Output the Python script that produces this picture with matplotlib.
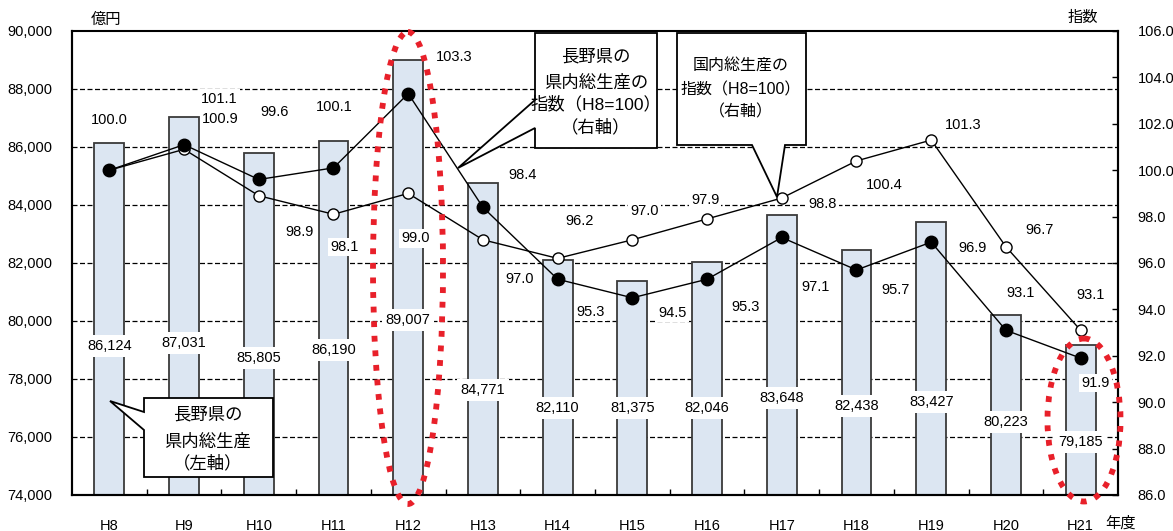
import matplotlib
matplotlib.use("Agg")
import matplotlib.pyplot as plt
from matplotlib.patches import Polygon, Ellipse
from matplotlib.ticker import FuncFormatter, FixedLocator
import numpy as np

plt.rcParams['font.family'] = ['Liberation Sans', 'Noto Sans CJK JP', 'DejaVu Sans']

# ---- data ----
years = ["H8", "H9", "H10", "H11", "H12", "H13", "H14", "H15", "H16", "H17", "H18", "H19", "H20", "H21"]
nagano_gdp = [86124, 87031, 85805, 86190, 89007, 84771, 82110, 81375, 82046, 83648, 82438, 83427, 80223, 79185]
nagano_index = [100.0, 101.1, 99.6, 100.1, 103.3, 98.4, 95.3, 94.5, 95.3, 97.1, 95.7, 96.9, 93.1, 91.9]
national_index = [100.0, 100.9, 98.9, 98.1, 99.0, 97.0, 96.2, 97.0, 97.9, 98.8, 100.4, 101.3, 96.7, 93.1]

# ---- layout (label placement) ----
bar_label_y = [79138, 79241, 78724, 79000, 80034, 77621, 77000, 77000, 77000, 77345, 77069, 77207, 76517, 75828]
nag_off = [(0, 50), (35, 46), (16, 67), (1, 61), (46, 37), (40, 32), (33, -33), (40, -15),
           (38, -28), (34, -50), (39, -20), (41, -6), (15, 37), (15, -25)]
nat_off = [None, (36, 30), (41, -36), (11, -33), (7, -45), (37, -39), (22, 37), (12, 29),
           (-2, 19), (41, -6), (28, -24), (32, 15), (34, 17), (10, 35)]

W, H = 1173, 531
fig = plt.figure(figsize=(W / 100, H / 100), dpi=100)
ax = fig.add_axes([72 / W, 36 / H, 1046 / W, 464 / H])
ax2 = ax.twinx()

x = np.arange(len(years))
ax.bar(x, nagano_gdp, width=0.4, color="#dce6f2", edgecolor="#3a3a3a", linewidth=1.3, zorder=2)
ax.set_xlim(-0.5, len(years) - 0.5)
ax.set_ylim(74000, 90000)
ax.set_yticks(np.arange(74000, 90001, 2000))
ax.yaxis.set_major_formatter(FuncFormatter(lambda v, p: f"{int(v):,}"))
for gy in range(76000, 90000, 2000):
    ax.axhline(gy, color="black", linestyle=(0, (4, 2)), linewidth=0.9, zorder=0)

ax.set_xticks(x)
ax.set_xticklabels(years)
ax.xaxis.set_minor_locator(FixedLocator(np.arange(0.5, len(years) - 1, 1)))
ax.tick_params(axis="x", which="major", length=0, pad=17, labelsize=10.5)
ax.tick_params(axis="x", which="minor", direction="in", length=4, width=1)
ax.tick_params(axis="y", length=0, pad=14, labelsize=10.5)

for sp in ["left", "bottom", "right"]:
    ax.spines[sp].set_linewidth(1.5)
    ax2.spines[sp].set_linewidth(1.5)
ax.spines["top"].set_linestyle((0, (3, 1)))
ax.spines["top"].set_linewidth(1.5)
ax2.spines["top"].set_visible(False)

for i, (v, ly) in enumerate(zip(nagano_gdp, bar_label_y)):
    ax.text(i, ly, f"{v:,}", ha="center", va="center", fontsize=10.5, zorder=4,
            bbox=dict(boxstyle="square,pad=0.25", fc="white", ec="none"))

ax2.set_ylim(86, 106)
ax2.set_yticks(np.arange(86, 106.1, 2))
ax2.yaxis.set_major_formatter(FuncFormatter(lambda v, p: f"{v:.1f}"))
ax2.tick_params(axis="y", direction="in", length=4, width=1, pad=14, labelsize=10.5)

ax2.plot(x, national_index, color="black", linewidth=1.0, marker="o", markersize=8,
         markerfacecolor="white", markeredgecolor="black", markeredgewidth=1.0, zorder=3)
ax2.plot(x, nagano_index, color="black", linewidth=1.0, marker="o", markersize=9,
         markerfacecolor="black", markeredgecolor="black", zorder=4)

for i, v in enumerate(nagano_index):
    ax2.annotate(f"{v:.1f}", (i, v), xytext=nag_off[i], textcoords="offset pixels",
                 ha="center", va="center", fontsize=10.5, zorder=5,
                 bbox=dict(boxstyle="square,pad=0.15", fc="white", ec="none"))
for i, v in enumerate(national_index):
    if nat_off[i] is None:
        continue
    ax2.annotate(f"{v:.1f}", (i, v), xytext=nat_off[i], textcoords="offset pixels",
                 ha="center", va="center", fontsize=10.5, zorder=5,
                 bbox=dict(boxstyle="square,pad=0.15", fc="white", ec="none"))

# ---- overlay in pixel coordinates ----
ov = fig.add_axes([0, 0, 1, 1])
ov.set_xlim(0, W)
ov.set_ylim(H, 0)
ov.axis("off")
ov.patch.set_visible(False)

fig.text(106 / W, 1 - 20 / H, "億円", ha="center", va="center", fontsize=11)
fig.text(1083 / W, 1 - 18 / H, "指数", ha="center", va="center", fontsize=11)
fig.text(1121 / W, 1 - 523 / H, "年度", ha="center", va="center", fontsize=11)

def callout(pts, lines, cx, ys, fs):
    ov.add_patch(Polygon(pts, closed=True, fc="white", ec="black", lw=1.3, zorder=6))
    for t, yy in zip(lines, ys):
        ov.text(cx, yy, t, ha="center", va="center", fontsize=fs, zorder=7)

callout([(535, 33), (657, 33), (657, 148), (535, 148), (535, 128), (458, 168), (535, 100)],
        ["長野県の", "県内総生産の", "指数（H8=100）", "（右軸）"], 596, [57, 82, 104, 127], 12.5)
callout([(677, 33), (806, 33), (806, 145), (785, 145), (777, 197), (752, 145), (677, 145)],
        ["国内総生産の", "指数（H8=100）", "（右軸）"], 741, [66, 90, 112], 11.5)
callout([(144, 398), (273, 398), (273, 477), (144, 477), (144, 430), (110, 401), (144, 412)],
        ["長野県の", "県内総生産", "（左軸）"], 208, [415, 441, 463], 12.5)

red = "#e8202a"
ov.add_patch(Ellipse((408, 268), 70, 472, fill=False, ec=red, lw=4.2,
                     linestyle=(0, (1, 1.5)), zorder=8))
ov.add_patch(Ellipse((1084, 420), 73, 163, fill=False, ec=red, lw=4.2,
                     linestyle=(0, (1, 1.5)), zorder=8))

fig.savefig("out.png", dpi=100)
